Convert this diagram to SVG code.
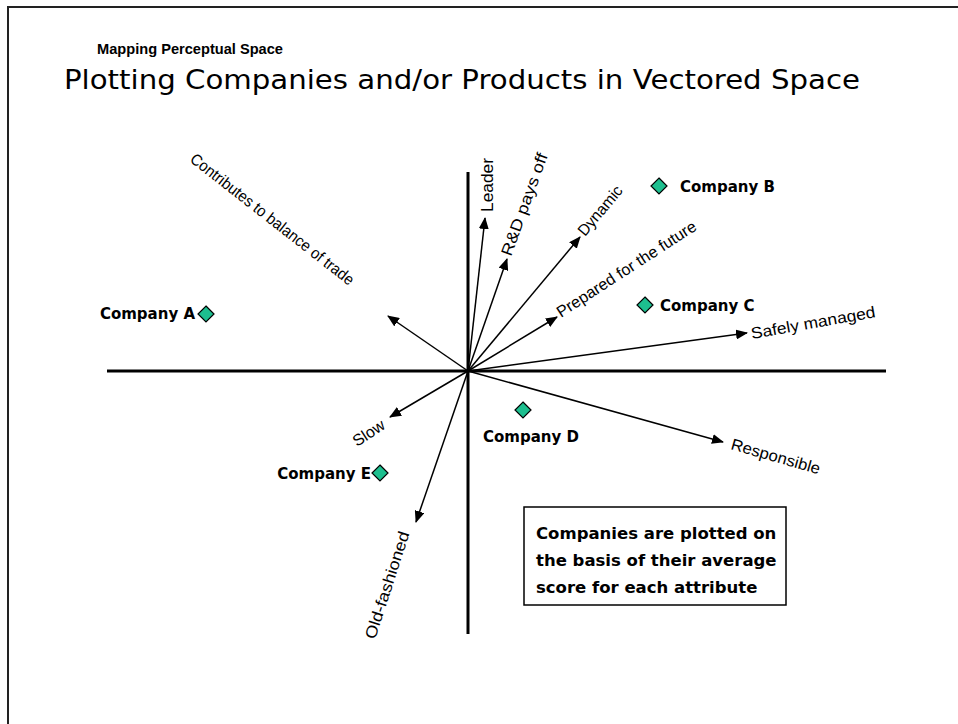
<svg xmlns="http://www.w3.org/2000/svg" width="958" height="724" viewBox="0 0 958 724">
<defs>
<marker id="ah" viewBox="0 0 12 10" refX="11" refY="5" markerWidth="12" markerHeight="10" markerUnits="userSpaceOnUse" orient="auto"><path d="M0,0 L12,5 L0,10 z" fill="#000"/></marker>
<style>
.axis{stroke:#000;stroke-width:3;fill:none}
.vec{stroke:#000;stroke-width:1.5;fill:none;marker-end:url(#ah)}
.lbl{font-family:"Liberation Sans",Arial,sans-serif;font-size:16px;fill:#000}
.co{font-family:"DejaVu Sans",Verdana,sans-serif;font-weight:bold;font-size:15px;fill:#000}
.dia{fill:#1dbf8f;stroke:#000;stroke-width:1.2}
.box{font-family:"DejaVu Sans",Verdana,sans-serif;font-weight:bold;font-size:16.5px;fill:#000}
</style>
</defs>
<rect width="958" height="724" fill="#fff"/>
<path d="M8,724 V7 H958" fill="none" stroke="#222" stroke-width="2"/>
<g id="title">
<text x="97" y="54" font-family="'Liberation Sans',Arial,sans-serif" font-weight="bold" font-size="15" textLength="186" lengthAdjust="spacingAndGlyphs">Mapping Perceptual Space</text>
<text x="64" y="89" font-family="'DejaVu Sans',Verdana,sans-serif" font-size="26" textLength="796" lengthAdjust="spacingAndGlyphs">Plotting Companies and/or Products in Vectored Space</text>
</g>
<g id="axes">
<line class="axis" x1="107" y1="371" x2="886" y2="371"/>
<line class="axis" x1="468" y1="172" x2="468" y2="634"/>
</g>
<g id="connectors">
<line class="vec" x1="468" y1="371" x2="485" y2="218"/>
<line class="vec" x1="468" y1="371" x2="507" y2="259"/>
<line class="vec" x1="468" y1="371" x2="580" y2="237"/>
<line class="vec" x1="468" y1="371" x2="557" y2="317"/>
<line class="vec" x1="468" y1="371" x2="747" y2="333"/>
<line class="vec" x1="468" y1="371" x2="723" y2="442"/>
<line class="vec" x1="468" y1="371" x2="388" y2="316"/>
<line class="vec" x1="468" y1="371" x2="390" y2="417"/>
<line class="vec" x1="468" y1="371" x2="416" y2="522"/>
</g>
<g id="vector-labels">
<text class="lbl" transform="translate(493,212) rotate(-90)" textLength="54" lengthAdjust="spacingAndGlyphs">Leader</text>
<text class="lbl" transform="translate(511,257) rotate(-70)" textLength="108" lengthAdjust="spacingAndGlyphs">R&amp;D pays off</text>
<text class="lbl" transform="translate(585,237) rotate(-50)" textLength="60" lengthAdjust="spacingAndGlyphs">Dynamic</text>
<text class="lbl" transform="translate(561,318) rotate(-33)" textLength="163" lengthAdjust="spacingAndGlyphs">Prepared for the future</text>
<text class="lbl" transform="translate(752,339) rotate(-10)" textLength="126" lengthAdjust="spacingAndGlyphs">Safely managed</text>
<text class="lbl" transform="translate(730,449) rotate(16)" textLength="92" lengthAdjust="spacingAndGlyphs">Responsible</text>
<text class="lbl" transform="translate(189,161) rotate(38)" textLength="203" lengthAdjust="spacingAndGlyphs">Contributes to balance of trade</text>
<text class="lbl" transform="translate(357,447) rotate(-33)" textLength="35" lengthAdjust="spacingAndGlyphs">Slow</text>
<text class="lbl" transform="translate(375,640) rotate(-72)" textLength="112" lengthAdjust="spacingAndGlyphs">Old-fashioned</text>
</g>
<g id="company-a">
<text class="co" x="195" y="319" text-anchor="end">Company A</text>
<path class="dia" d="M206,306 L214,314 L206,322 L198,314 Z"/>
</g>
<g id="company-b">
<path class="dia" d="M659,178 L667,186 L659,194 L651,186 Z"/>
<text class="co" x="680" y="192">Company B</text>
</g>
<g id="company-c">
<path class="dia" d="M645,297 L653,305 L645,313 L637,305 Z"/>
<text class="co" x="660" y="311">Company C</text>
</g>
<g id="company-d">
<path class="dia" d="M523,402 L531,410 L523,418 L515,410 Z"/>
<text class="co" x="483" y="442">Company D</text>
</g>
<g id="company-e">
<text class="co" x="371" y="479" text-anchor="end">Company E</text>
<path class="dia" d="M380,465 L388,473 L380,481 L372,473 Z"/>
</g>
<g id="note">
<rect x="524" y="507" width="262" height="98" fill="#fff" stroke="#000" stroke-width="1.5"/>
<text class="box" x="536" y="539">Companies are plotted on</text>
<text class="box" x="536" y="566">the basis of their average</text>
<text class="box" x="536" y="593">score for each attribute</text>
</g>
</svg>
